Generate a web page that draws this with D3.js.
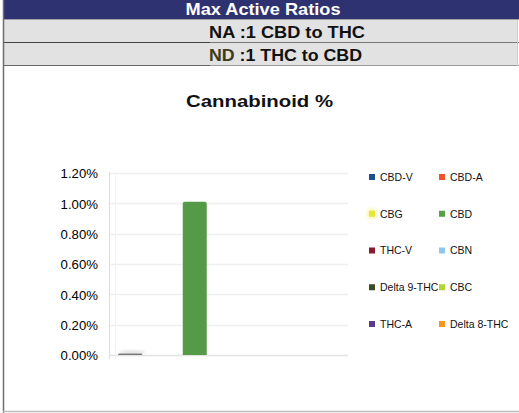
<!DOCTYPE html>
<html>
<head>
<meta charset="utf-8">
<script src="https://cdn.jsdelivr.net/npm/d3@7"></script>
<style>
  html, body { margin: 0; padding: 0; background: #fff; }
  svg { display: block; font-family: "Liberation Sans", Arial, Helvetica, sans-serif; }
</style>
</head>
<body>
<svg id="chart" width="519" height="413"></svg>
<script>
// ---- data ----
const headerTitle = "Max Active Ratios";
const ratioRows = [
  { lead: "NA", rest: ":1 CBD to THC" },
  { lead: "ND", rest: ":1 THC to CBD" }
];
const chartTitle = "Cannabinoid %";
const barCategories = ["THC", "CBD"];
const barValues = [0.00005, 0.0101];
const barColors = ["#7a7a7a", "#559b47"];
const yTicks = [0, 0.002, 0.004, 0.006, 0.008, 0.010, 0.012];
const legendNames = ["CBD-V", "CBD-A", "CBG", "CBD", "THC-V", "CBN", "Delta 9-THC", "CBC", "THC-A", "Delta 8-THC"];
const legendColors = ["#1f4f8f", "#ef5428", "#e6e63a", "#56a046", "#8a1a30", "#8fc7ec", "#3c4a20", "#b4d334", "#5a3a8d", "#f7961e"];

// ---- drawing ----
const svg = d3.select("#chart");
const W = 519, H = 413;

const defs = svg.append("defs");
defs.append("filter").attr("id", "glow")
  .append("feGaussianBlur").attr("stdDeviation", 2.2);
defs.append("filter").attr("id", "soft")
  .append("feGaussianBlur").attr("stdDeviation", 1.2);

// header band
svg.append("rect").attr("x", 4).attr("y", 0).attr("width", W - 4).attr("height", 19).attr("fill", "#2f3271");
svg.append("text").attr("x", 263).attr("y", 15).attr("text-anchor", "middle")
  .attr("font-size", 16.5).attr("font-weight", "bold").attr("fill", "#fff")
  .attr("textLength", 155).attr("lengthAdjust", "spacingAndGlyphs")
  .text(headerTitle);

// ratio rows
const rowY = [20, 43];
ratioRows.forEach((r, i) => {
  svg.append("rect").attr("x", 4).attr("y", rowY[i]).attr("width", W - 5).attr("height", 22).attr("fill", "#e2e2e2");
  const t = svg.append("text").attr("x", 209).attr("y", rowY[i] + 18)
    .attr("font-size", 16.5).attr("font-weight", "bold").attr("fill", "#111")
    .attr("textLength", i === 0 ? 156 : 153).attr("lengthAdjust", "spacingAndGlyphs");
  t.append("tspan").attr("fill", i === 1 ? "#3d3b17" : "#111").text(r.lead);
  t.append("tspan").text(" " + r.rest);
});
// row separator lines
svg.append("line").attr("x1", 4).attr("x2", W).attr("y1", 19.5).attr("y2", 19.5).attr("stroke", "#a0a0a0");
svg.append("line").attr("x1", 4).attr("x2", 210).attr("y1", 42.5).attr("y2", 42.5).attr("stroke", "#444");
svg.append("line").attr("x1", 210).attr("x2", W).attr("y1", 42.5).attr("y2", 42.5).attr("stroke", "#777");
svg.append("line").attr("x1", 4).attr("x2", 210).attr("y1", 65.5).attr("y2", 65.5).attr("stroke", "#666");
svg.append("line").attr("x1", 210).attr("x2", W).attr("y1", 65.5).attr("y2", 65.5).attr("stroke", "#999");
svg.append("line").attr("x1", 517.5).attr("x2", 517.5).attr("y1", 20).attr("y2", 66).attr("stroke", "#ccc");

// outer frame
svg.append("line").attr("x1", 3.5).attr("x2", 3.5).attr("y1", 0).attr("y2", H).attr("stroke", "#6e6e6e").attr("stroke-width", 1.5);
svg.append("line").attr("x1", 3).attr("x2", W).attr("y1", 411.5).attr("y2", 411.5).attr("stroke", "#bdbdbd").attr("stroke-width", 1.5);

// chart title
svg.append("text").attr("x", 259.5).attr("y", 107).attr("text-anchor", "middle")
  .attr("font-size", 17).attr("font-weight", "bold").attr("fill", "#111")
  .attr("textLength", 147).attr("lengthAdjust", "spacingAndGlyphs")
  .text(chartTitle);

// scales
const plotL = 110, plotR = 348, plotT = 173, plotB = 355;
const y = d3.scaleLinear().domain([0, 0.012]).range([plotB, plotT]);
const x = d3.scaleBand().domain(barCategories).range([98, 227]).padding(0);
const barW = 24;

// gridlines
svg.append("g").selectAll("line").data(yTicks).join("line")
  .attr("x1", plotL).attr("x2", plotR)
  .attr("y1", d => Math.round(y(d)) + 0.5).attr("y2", d => Math.round(y(d)) + 0.5)
  .attr("stroke", d => d === 0 ? "#e2e2e2" : "#efefef").attr("stroke-width", 1.5);

// y axis (labels only)
const yAxis = d3.axisLeft(y).tickValues(yTicks).tickFormat(d3.format(".2%")).tickSize(0).tickPadding(0);
const gy = svg.append("g").attr("transform", "translate(98,0)").call(yAxis);
gy.select(".domain").remove();
gy.selectAll("text").attr("font-size", 13.2).attr("fill", "#000")
  .attr("font-family", "'Liberation Sans', Arial, sans-serif").attr("dy", "0.36em");

// vertical axis lines
svg.append("line").attr("x1", 109.5).attr("x2", 109.5).attr("y1", plotT - 1).attr("y2", plotB + 4).attr("stroke", "#dcdcdc");
svg.append("line").attr("x1", 115.5).attr("x2", 115.5).attr("y1", plotT).attr("y2", plotB + 4).attr("stroke", "#f2f2f2");

// bars
const barG = svg.append("g");
// faint shadow above tiny bar
barG.selectAll("ellipse").data(barValues.filter(v => v < 0.001)).join("ellipse")
  .attr("cx", x(barCategories[0]) + x.bandwidth() / 2 + 2).attr("cy", y(0) - 3)
  .attr("rx", 13).attr("ry", 1.8).attr("fill", "#e4e4e4").attr("filter", "url(#soft)");
barG.selectAll("path.bar").data(barValues).join("path").attr("class", "bar")
  .attr("fill", (d, i) => barColors[i])
  .attr("d", (d, i) => {
    const cx = x(barCategories[i]) + x.bandwidth() / 2;
    const x0 = cx - barW / 2, x1 = cx + barW / 2;
    const yt = Math.min(y(d), y(0) - 1.5), yb = y(0);
    const r = Math.min(2, (yb - yt) / 2);
    return `M${x0},${yb} L${x0},${yt + r} Q${x0},${yt} ${x0 + r},${yt} L${x1 - r},${yt} Q${x1},${yt} ${x1},${yt + r} L${x1},${yb} Z`;
  });

// legend
const lg = svg.append("g");
legendNames.forEach((name, i) => {
  const col = i % 2, row = Math.floor(i / 2);
  const sx = 369 + col * 70, cy = 177 + row * 36.75;
  if (name === "CBG") {
    lg.append("circle").attr("cx", sx + 3).attr("cy", cy).attr("r", 5).attr("fill", "#f3f39a").attr("filter", "url(#glow)");
  }
  lg.append("rect").attr("x", sx).attr("y", cy - 3).attr("width", 6).attr("height", 6).attr("fill", legendColors[i]);
  lg.append("text").attr("x", sx + 11).attr("y", cy).attr("dy", "0.36em")
    .attr("font-size", 10.5).attr("fill", "#111").text(name);
});
</script>
</body>
</html>
